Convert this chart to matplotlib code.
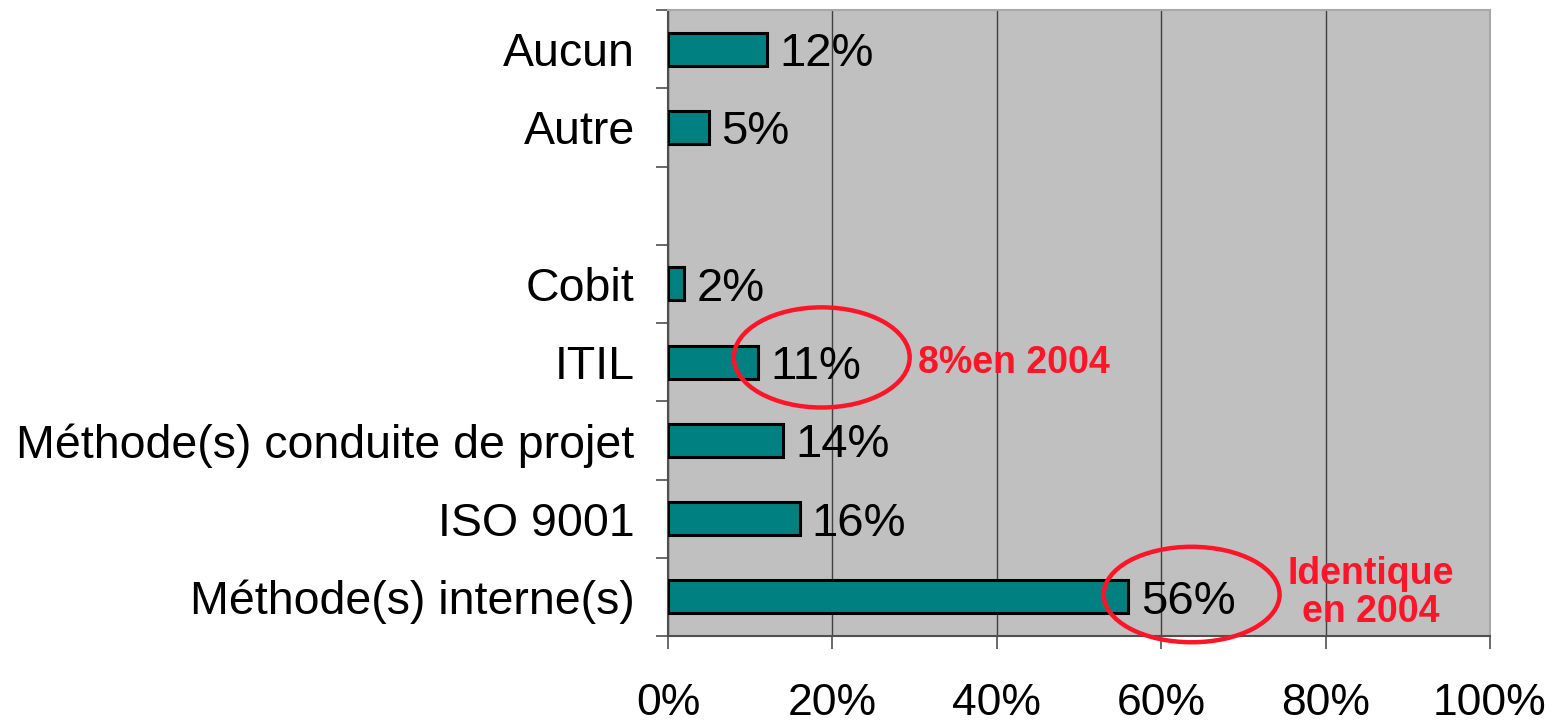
import matplotlib
matplotlib.use("Agg")
import matplotlib.pyplot as plt
from matplotlib.patches import Ellipse

plt.rcParams['font.family'] = ['Liberation Sans', 'DejaVu Sans']

categories = ["Aucun", "Autre", "", "Cobit", "ITIL",
              "Méthode(s) conduite de projet", "ISO 9001", "Méthode(s) interne(s)"]
values = [12, 5, None, 2, 11, 14, 16, 56]
xticks = [0, 20, 40, 60, 80, 100]
xtick_labels = ["0%", "20%", "40%", "60%", "80%", "100%"]
notes = ["8%en 2004", "Identique\nen 2004"]

red = '#FF1428'
fig = plt.figure(figsize=(15.56, 7.22), dpi=100)
ax = fig.add_axes([668/1556, 1-636/722, 822/1556, 626/722])
ax.set_facecolor('#C0C0C0')

pos = list(range(len(categories)))
for p, v in zip(pos, values):
    if v is None:
        continue
    ax.barh(p, v, height=0.42, color='#008080', edgecolor='black', linewidth=2.2, zorder=3)
    ax.text(v + 1.5, p, f"{v}%", va='center_baseline', ha='left', fontsize=34, zorder=4)

ax.set_xlim(0, 100)
ax.set_ylim(len(categories) - 0.5, -0.5)
ax.set_xticks(xticks)
ax.set_xticklabels(xtick_labels, fontsize=32)
ax.set_yticks([p + 0.5 for p in [-1] + pos])
ax.set_yticklabels([])
ax.set_yticks(pos, minor=True)
ax.set_yticklabels(categories, minor=True, fontsize=33.5)
ax.tick_params(axis='y', which='minor', length=0, pad=24)
ax.tick_params(axis='y', which='major', length=9, width=1.2, color='#505050')
ax.tick_params(axis='x', length=9, width=1.2, color='#505050', pad=25)
ax.xaxis.grid(True, color='#404040', linewidth=1.0, zorder=1)
ax.set_axisbelow(True)
for s in ['left', 'bottom']:
    ax.spines[s].set_color('#505050')
    ax.spines[s].set_linewidth(1.5)
for s in ['top', 'right']:
    ax.spines[s].set_color('#A8A8A8')
    ax.spines[s].set_linewidth(1.5)

ax.add_patch(Ellipse((18.7, 3.94), 21.4, 1.28, fill=False, edgecolor=red,
                     linewidth=3.2, zorder=5, clip_on=False))
ax.add_patch(Ellipse((63.7, 6.97), 21.4, 1.22, fill=False, edgecolor=red,
                     linewidth=3.2, zorder=5, clip_on=False))
ax.text(30.4, 4.01, notes[0], color=red, fontsize=27, fontweight='bold',
        va='center', ha='left', zorder=6)
ax.text(85.5, 6.95, notes[1], color=red, fontsize=27, fontweight='bold',
        va='center', ha='center', linespacing=1.1, zorder=6)

fig.savefig('out.png', dpi=100)
